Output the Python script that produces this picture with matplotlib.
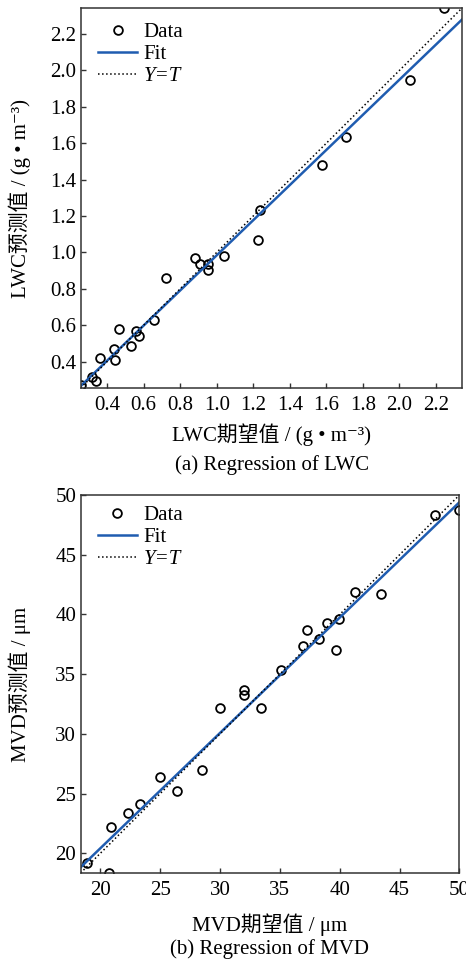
import matplotlib
matplotlib.use("Agg")
import matplotlib.pyplot as plt
import numpy as np

plt.rcParams['font.family'] = ['Liberation Serif', 'Noto Sans CJK SC', 'DejaVu Sans']
plt.rcParams['font.size'] = 15

# (a) LWC: expected (T) vs predicted (Y), g/m^3
lwc_true = [0.257, 0.318, 0.341, 0.363, 0.437, 0.445, 0.467, 0.533, 0.557, 0.577,
            0.659, 0.723, 0.882, 0.908, 0.952, 0.955, 1.039, 1.226, 1.238, 1.578,
            1.708, 2.056, 2.247]
lwc_pred = [0.269, 0.315, 0.295, 0.421, 0.470, 0.410, 0.580, 0.487, 0.569, 0.540,
            0.629, 0.861, 0.969, 0.936, 0.903, 0.936, 0.981, 1.069, 1.232, 1.478,
            1.633, 1.950, 2.342]
lwc_fit = (0.965, 0.019)  # slope, intercept
lwc_lim = (0.255, 2.342)
lwc_ticks = [0.4, 0.6, 0.8, 1.0, 1.2, 1.4, 1.6, 1.8, 2.0, 2.2]

# (b) MVD: expected (T) vs predicted (Y), um
mvd_true = [18.90, 20.69, 20.85, 22.30, 23.27, 25.00, 26.39, 28.48, 29.98, 31.96,
            31.96, 33.43, 35.05, 36.94, 37.28, 38.28, 38.95, 39.67, 39.95, 41.29,
            43.46, 47.92, 49.93]
mvd_pred = [19.20, 18.36, 22.17, 23.37, 24.15, 26.41, 25.24, 26.99, 32.17, 33.68,
            33.28, 32.17, 35.35, 37.35, 38.66, 37.94, 39.25, 37.02, 39.58, 41.84,
            41.72, 48.36, 48.77]
mvd_fit = (0.966, 1.10)
mvd_lim = (18.35, 50.0)
mvd_ticks = [20, 25, 30, 35, 40, 45, 50]

blue = '#1f5cb0'

fig = plt.figure(figsize=(4.66, 9.61), dpi=100)
ax1 = fig.add_axes([0.173, 0.5963, 0.818, 0.3951])
ax2 = fig.add_axes([0.173, 0.0916, 0.813, 0.3933])


def draw(ax, t, y, fit, lim, ticks, fmt, xlabel, ylabel, leg_y):
    ax.plot(t, y, 'o', mfc='none', mec='black', ms=6.3, mew=1.3, label='Data')
    xs = np.array(lim)
    ax.plot(xs, fit[0] * xs + fit[1], color=blue, lw=1.8, label='Fit')
    ax.plot(xs, xs, ':', color='black', lw=1.1, label='Y=T')
    ax.set_xlim(lim)
    ax.set_ylim(lim)
    ax.set_xticks(ticks)
    ax.set_yticks(ticks)
    ax.set_xticklabels([fmt.format(v) for v in ticks])
    ax.set_yticklabels([fmt.format(v) for v in ticks])
    ax.tick_params(direction='in', length=3.6, width=1.0, color='#333333')
    ax.tick_params(axis='x', pad=5.5)
    ax.tick_params(axis='y', pad=3.2)
    for sp in ax.spines.values():
        sp.set_color('#333333')
        sp.set_linewidth(1.1)
    ax.set_xlabel(xlabel)
    ax.set_ylabel(ylabel)
    leg = ax.legend(loc='upper left', bbox_to_anchor=(0.045, leg_y), frameon=False,
                    borderaxespad=0, borderpad=0, handlelength=1.9,
                    handletextpad=0.3, labelspacing=0.12)
    leg.get_texts()[2].set_fontstyle('italic')


draw(ax1, lwc_true, lwc_pred, lwc_fit, lwc_lim, lwc_ticks, '{:.1f}',
     'LWC期望值 / (g • m⁻³)', 'LWC预测值 / (g • m⁻³)', 0.963)
draw(ax2, mvd_true, mvd_pred, mvd_fit, mvd_lim, mvd_ticks, '{:d}',
     'MVD期望值 / μm', 'MVD预测值 / μm', 0.972)

ax1.xaxis.set_label_coords(0.5, -0.093)
ax1.yaxis.set_label_coords(-0.13, 0.5)
ax2.xaxis.set_label_coords(0.5, -0.108)
ax2.yaxis.set_label_coords(-0.13, 0.5)

fig.text(0.583, 0.516, '(a) Regression of LWC', ha='center', va='center')
fig.text(0.578, 0.0125, '(b) Regression of MVD', ha='center', va='center')

fig.savefig('out.png', dpi=100)
